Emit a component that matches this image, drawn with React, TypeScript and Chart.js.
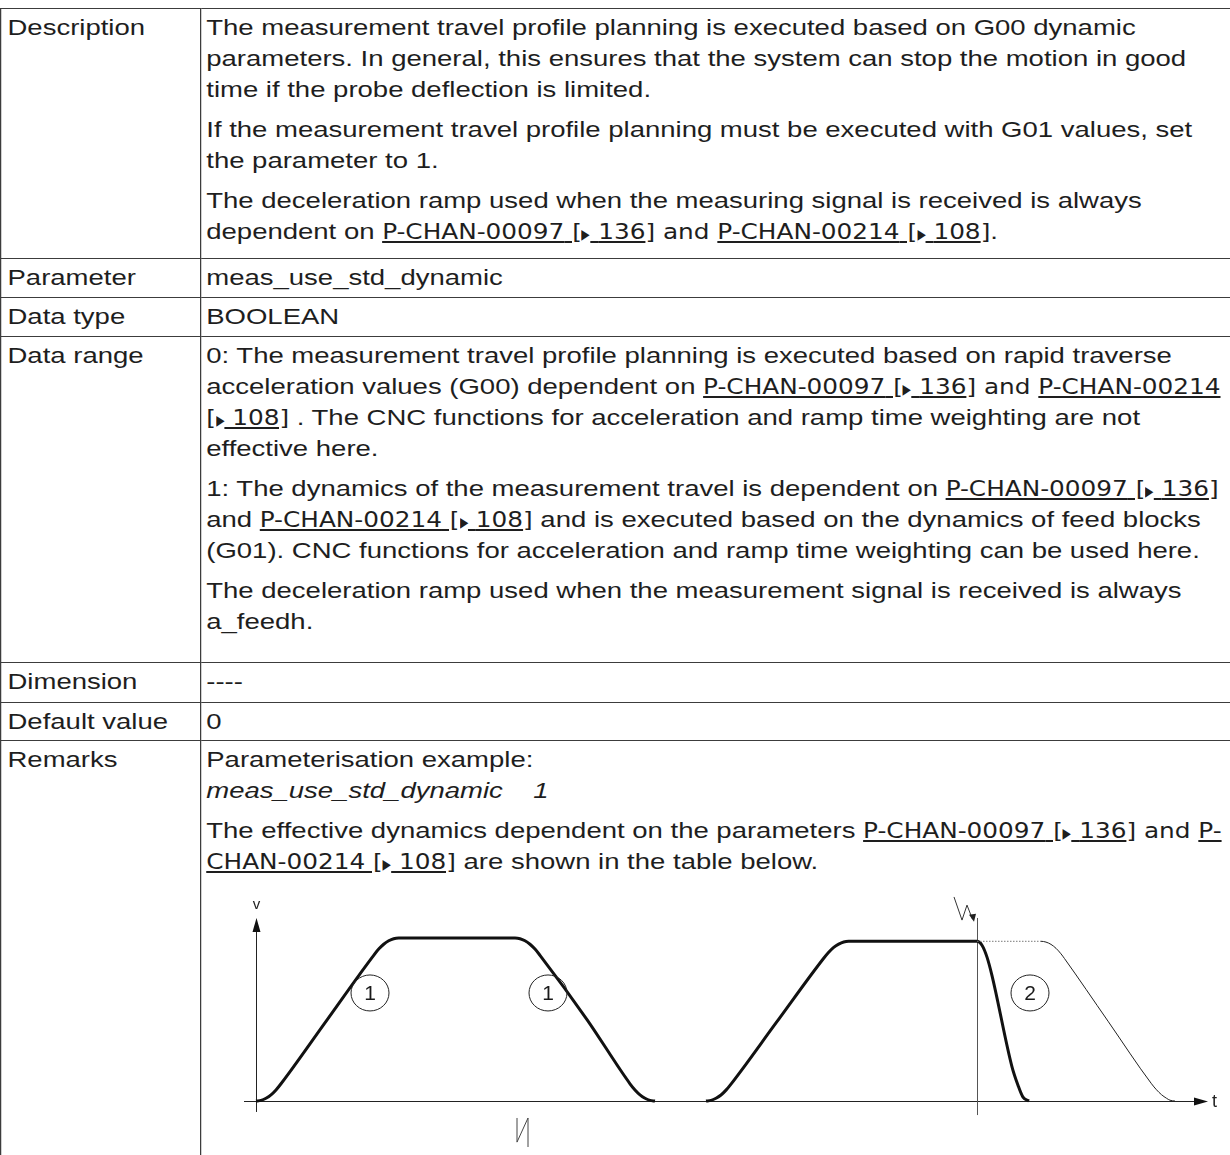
import React, { useEffect, useRef } from "react";
import { Chart, registerables } from "chart.js";

Chart.register(...registerables);

// ---- data (time in arbitrary units, velocity relative to plateau) ----
const FIRST_T = [0, 0.5, 1.0, 1.5, 2.0, 2.5, 7.0, 11.77, 12.27, 12.77, 13.27, 13.77, 14.27, 25.9, 26.4, 26.9, 27.4, 27.9, 28.4, 33.1, 37.4, 37.9, 38.4, 38.9, 39.4, 39.9];
const FIRST_V = [0, 0.004, 0.017, 0.038, 0.068, 0.106, 0.489, 0.894, 0.932, 0.962, 0.983, 0.996, 1, 1, 0.996, 0.983, 0.962, 0.932, 0.894, 0.5, 0.106, 0.068, 0.038, 0.017, 0.004, 0];

const MEAS_T = [45.0, 45.5, 46.0, 46.5, 47.0, 47.5, 52.0, 56.77, 57.27, 57.77, 58.27, 58.77, 59.27, 72.1, 72.6, 73.1, 73.6, 75.6, 76.2, 76.7, 77.3];
const MEAS_V = [0, 0.004, 0.017, 0.037, 0.067, 0.104, 0.479, 0.876, 0.913, 0.943, 0.963, 0.976, 0.98, 0.98, 0.956, 0.883, 0.77, 0.21, 0.097, 0.024, 0];

const STD_T = [72.1, 78.5, 79.0, 79.5, 80.0, 80.5, 80.85, 85.2, 89.55, 90.05, 90.55, 91.05, 91.4, 91.9];
const STD_V = [0.98, 0.98, 0.975, 0.961, 0.937, 0.903, 0.874, 0.49, 0.106, 0.069, 0.039, 0.017, 0.005, 0];

const SIGNAL_T = 72.1;
const AXIS_LABELS = { y: "v", x: "t" };
const MARKER_LABELS = ["1", "1", "2"];
const MARKER_T = [11.4, 29.2, 77.4];
const MARKER_V = [0.663, 0.663, 0.663];

const zip = (t: number[], v: number[]) => t.map((x, i) => ({ x, y: v[i] }));

const diagramPlugin = {
  id: "diagram",
  beforeDatasetsDraw(chart: any) {
    const { ctx, scales } = chart;
    const X = (t: number) => scales.x.getPixelForValue(t);
    const Y = (v: number) => scales.y.getPixelForValue(v);
    ctx.save();
    ctx.strokeStyle = "#222";
    ctx.fillStyle = "#111";
    ctx.lineWidth = 1;
    const y0 = Math.round(Y(0)) + 0.5;
    // x axis
    ctx.beginPath();
    ctx.moveTo(X(-1.2), y0);
    ctx.lineTo(X(94.0), y0);
    ctx.stroke();
    ctx.beginPath();
    ctx.moveTo(X(95.2), y0);
    ctx.lineTo(X(95.2) - 14, y0 - 4);
    ctx.lineTo(X(95.2) - 14, y0 + 4);
    ctx.closePath();
    ctx.fill();
    // y axis
    const x0 = Math.round(X(0)) + 0.5;
    ctx.beginPath();
    ctx.moveTo(x0, Y(-0.067));
    ctx.lineTo(x0, Y(1.05));
    ctx.stroke();
    ctx.beginPath();
    ctx.moveTo(x0, Y(1.123));
    ctx.lineTo(x0 - 4, Y(1.123) + 14);
    ctx.lineTo(x0 + 4, Y(1.123) + 14);
    ctx.closePath();
    ctx.fill();
    // axis labels
    ctx.fillStyle = "#222";
    ctx.font = "15px 'Liberation Sans', Arial, sans-serif";
    ctx.textAlign = "center";
    ctx.textBaseline = "middle";
    ctx.fillText(AXIS_LABELS.y, x0, Y(1.202));
    ctx.font = "18px 'Liberation Sans', Arial, sans-serif";
    ctx.textAlign = "left";
    ctx.fillText(AXIS_LABELS.x, X(95.6), y0 + 1);
    // measuring-signal line
    ctx.strokeStyle = "#555";
    const xs = Math.round(X(SIGNAL_T)) + 0.5;
    ctx.beginPath();
    ctx.moveTo(xs, Y(1.123));
    ctx.lineTo(xs, Y(-0.086));
    ctx.stroke();
    // lightning symbol (signal)
    ctx.strokeStyle = "#333";
    ctx.beginPath();
    ctx.moveTo(X(69.8), Y(1.252));
    ctx.lineTo(X(70.6), Y(1.11));
    ctx.lineTo(X(71.1), Y(1.202));
    ctx.lineTo(X(71.65), Y(1.115));
    ctx.stroke();
    ctx.fillStyle = "#222";
    ctx.beginPath();
    const ax = X(71.8), ay = Y(1.1);
    ctx.moveTo(ax, ay);
    ctx.lineTo(ax - 5, ay - 7);
    ctx.lineTo(ax + 2, ay - 8);
    ctx.closePath();
    ctx.fill();
    // lightning symbol below axis
    ctx.strokeStyle = "#444";
    ctx.beginPath();
    ctx.moveTo(X(26.1), Y(-0.104));
    ctx.lineTo(X(26.1), Y(-0.252));
    ctx.lineTo(X(27.2), Y(-0.104));
    ctx.lineTo(X(27.2), Y(-0.282));
    ctx.stroke();
    ctx.restore();
  },
  afterDatasetsDraw(chart: any) {
    const { ctx, scales } = chart;
    ctx.save();
    ctx.strokeStyle = "#222";
    ctx.lineWidth = 1;
    ctx.fillStyle = "#1a1a1a";
    ctx.font = "21px 'Liberation Sans', Arial, sans-serif";
    ctx.textAlign = "center";
    ctx.textBaseline = "middle";
    MARKER_LABELS.forEach((lab, i) => {
      const cx = scales.x.getPixelForValue(MARKER_T[i]);
      const cy = scales.y.getPixelForValue(MARKER_V[i]);
      ctx.beginPath();
      ctx.ellipse(cx, cy, 19, 18, 0, 0, Math.PI * 2);
      ctx.stroke();
      ctx.fillText(lab, cx, cy + 1);
    });
    ctx.restore();
  },
};

function Diagram() {
  const ref = useRef<HTMLCanvasElement | null>(null);
  useEffect(() => {
    if (!ref.current) return;
    const chart = new Chart(ref.current, {
      type: "line",
      data: {
        datasets: [
          {
            data: zip(STD_T, STD_V),
            borderColor: "#222",
            borderWidth: 1,
            pointRadius: 0,
            cubicInterpolationMode: "monotone",
            segment: {
              borderDash: (c: any) => (c.p1.parsed.x <= 78.5 ? [1.5, 1.5] : undefined),
              borderColor: (c: any) => (c.p1.parsed.x <= 78.5 ? "#777" : undefined),
            },
          },
          {
            data: zip(FIRST_T, FIRST_V),
            borderColor: "#111",
            borderWidth: 3,
            pointRadius: 0,
            cubicInterpolationMode: "monotone",
          },
          {
            data: zip(MEAS_T, MEAS_V),
            borderColor: "#111",
            borderWidth: 3,
            pointRadius: 0,
            cubicInterpolationMode: "monotone",
          },
        ],
      } as any,
      options: {
        animation: false,
        responsive: false,
        maintainAspectRatio: false,
        layout: { padding: 0 },
        events: [],
        plugins: { legend: { display: false }, tooltip: { enabled: false } },
        scales: {
          x: { type: "linear", min: -2.6, max: 97.4, display: false },
          y: { type: "linear", min: -0.331, max: 1.356, display: false },
        },
      } as any,
      plugins: [diagramPlugin as any],
    });
    return () => chart.destroy();
  }, []);
  return (
    <canvas
      ref={ref}
      width={1000}
      height={275}
      style={{ position: "absolute", left: 230, top: 880, width: 1000, height: 275 }}
    />
  );
}

const narrow = "'Liberation Sans Narrow', 'DejaVu Sans Condensed', sans-serif";
const linkStyle: React.CSSProperties = { fontFamily: narrow, fontSize: "22px", lineHeight: "1" };

function Tri() {
  return (
    <span
      style={{
        display: "inline-block",
        fontFamily: "'DejaVu Sans', sans-serif",
        fontSize: "14px",
        lineHeight: "1",
        transform: "scaleX(0.62)",
        margin: "0 -2px",
      }}
    >
      ▶
    </span>
  );
}

function Ref({ code, page }: { code: string; page: string }) {
  return (
    <span style={linkStyle}>
      <u>{code} [</u>
      <Tri />
      <u>&nbsp;{page}]</u>
    </span>
  );
}

const N = ({ children }: { children: any }) => <span style={linkStyle}>{children}</span>;

const P = ({ children, last }: { children: any; last?: boolean }) => (
  <div style={{ margin: 0, marginBottom: last ? 0 : 9, whiteSpace: "nowrap" }}>{children}</div>
);

const td1: React.CSSProperties = {
  border: "1px solid #3c3c3c",
  padding: "3px 3px 3px 5px",
  verticalAlign: "top",
};
const td2: React.CSSProperties = {
  border: "1px solid #3c3c3c",
  padding: "3px 3px 3px 4px",
  verticalAlign: "top",
};

export default function App() {
  useEffect(() => {
    document.documentElement.style.overflow = "hidden";
    document.body.style.overflow = "hidden";
  }, []);
  return (
    <div
      style={{
        position: "absolute",
        left: 0,
        top: 0,
        width: 1230,
        height: 1155,
        overflow: "hidden",
        background: "#fff",
      }}
    >
      <div
        style={{
          position: "absolute",
          left: 0,
          top: 0,
          width: 1000,
          transform: "scaleX(1.25)",
          transformOrigin: "0 0",
          fontFamily: "'Liberation Sans', Arial, sans-serif",
          fontSize: "22px",
          lineHeight: "31px",
          color: "#1e1e1e",
        }}
      >
        <table
          style={{
            position: "absolute",
            left: 0,
            top: 8,
            width: 1000,
            borderCollapse: "collapse",
            tableLayout: "fixed",
          }}
        >
          <colgroup>
            <col style={{ width: 160 }} />
            <col style={{ width: 840 }} />
          </colgroup>
          <tbody>
            <tr style={{ height: 250 }}>
              <td style={td1}>Description</td>
              <td style={td2}>
                <P>
                  The measurement travel profile planning is executed based on G00 dynamic
                  <br />
                  parameters. In general, this ensures that the system can stop the motion in good
                  <br />
                  time if the probe deflection is limited.
                </P>
                <P>
                  If the measurement travel profile planning must be executed with G01 values, set
                  <br />
                  the parameter to 1.
                </P>
                <P last>
                  The deceleration ramp used when the measuring signal is received is always
                  <br />
                  dependent on <Ref code="P-CHAN-00097" page="136" />
                  <N> and </N>
                  <Ref code="P-CHAN-00214" page="108" />.
                </P>
              </td>
            </tr>
            <tr style={{ height: 39 }}>
              <td style={td1}>Parameter</td>
              <td style={td2}>meas_use_std_dynamic</td>
            </tr>
            <tr style={{ height: 39 }}>
              <td style={td1}>Data type</td>
              <td style={td2}>BOOLEAN</td>
            </tr>
            <tr style={{ height: 326 }}>
              <td style={td1}>Data range</td>
              <td style={td2}>
                <P>
                  0: The measurement travel profile planning is executed based on rapid traverse
                  <br />
                  acceleration values (G00) dependent on <Ref code="P-CHAN-00097" page="136" />
                  <N> and </N>
                  <span style={linkStyle}>
                    <u>P-CHAN-00214</u>
                  </span>
                  <br />
                  <span style={linkStyle}>
                    <u>[</u>
                    <Tri />
                    <u>&nbsp;108]</u>
                  </span>{" "}
                  . The CNC functions for acceleration and ramp time weighting are not
                  <br />
                  effective here.
                </P>
                <P>
                  1: The dynamics of the measurement travel is dependent on{" "}
                  <Ref code="P-CHAN-00097" page="136" />
                  <br />
                  and <Ref code="P-CHAN-00214" page="108" /> and is executed based on the dynamics of feed
                  blocks
                  <br />
                  (G01). CNC functions for acceleration and ramp time weighting can be used here.
                </P>
                <P last>
                  The deceleration ramp used when the measurement signal is received is always
                  <br />
                  a_feedh.
                </P>
              </td>
            </tr>
            <tr style={{ height: 40 }}>
              <td style={td1}>Dimension</td>
              <td style={td2}>----</td>
            </tr>
            <tr style={{ height: 38 }}>
              <td style={td1}>Default value</td>
              <td style={td2}>0</td>
            </tr>
            <tr>
              <td style={td1}>Remarks</td>
              <td style={td2}>
                <P>
                  Parameterisation example:
                  <br />
                  <i style={{ whiteSpace: "pre" }}>meas_use_std_dynamic    1</i>
                </P>
                <P>
                  The effective dynamics dependent on the parameters{" "}
                  <Ref code="P-CHAN-00097" page="136" />
                  <N> and </N>
                  <span style={linkStyle}>
                    <u>P-</u>
                  </span>
                  <br />
                  <span style={linkStyle}>
                    <u>CHAN-00214 [</u>
                    <Tri />
                    <u>&nbsp;108]</u>
                  </span>{" "}
                  are shown in the table below.
                </P>
                <div style={{ height: 400 }} />
              </td>
            </tr>
          </tbody>
        </table>
      </div>
      <Diagram />
    </div>
  );
}
